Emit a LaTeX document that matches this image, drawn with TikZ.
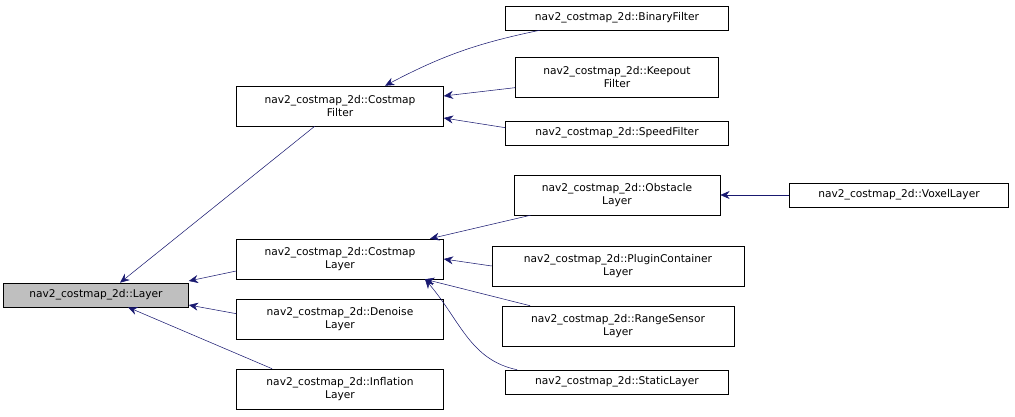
\documentclass[tikz,border=0pt]{standalone}
\usepackage{fontspec}
\setmainfont{DejaVu Sans}
\usetikzlibrary{arrows.meta}
\definecolor{edgeblue}{HTML}{191970}
\begin{document}
\begin{tikzpicture}[
        x=0.0264cm, y=-0.0264cm,
        cls/.style={draw=black, rectangle, align=center, inner sep=0pt, font=\fontsize{8}{9.5}\selectfont},
        one/.style={cls, minimum height=24*0.0264cm},
        two/.style={cls, minimum height=40*0.0264cm},
        inherit/.style={{Stealth[length=7pt,width=6pt]}-, edgeblue, thin}
    ]
        \useasboundingbox (0,0) rectangle (1015,417);
        % Classes
        \node[one, fill=black!25, minimum width=185*0.0264cm] (layer) at (96,295) {nav2\_costmap\_2d::Layer};
        \node[two, minimum width=207*0.0264cm] (cfilter) at (340,106) {nav2\_costmap\_2d::Costmap\\Filter};
        \node[two, minimum width=207*0.0264cm] (clayer) at (340,259) {nav2\_costmap\_2d::Costmap\\Layer};
        \node[two, minimum width=207*0.0264cm] (denoise) at (340,319) {nav2\_costmap\_2d::Denoise\\Layer};
        \node[two, minimum width=207*0.0264cm] (inflation) at (340,389) {nav2\_costmap\_2d::Inflation\\Layer};
        \node[one, minimum width=223*0.0264cm] (binary) at (617,18) {nav2\_costmap\_2d::BinaryFilter};
        \node[two, minimum width=203*0.0264cm] (keepout) at (617,77) {nav2\_costmap\_2d::Keepout\\Filter};
        \node[one, minimum width=223*0.0264cm] (speed) at (617,133) {nav2\_costmap\_2d::SpeedFilter};
        \node[two, minimum width=206*0.0264cm] (obstacle) at (617,195) {nav2\_costmap\_2d::Obstacle\\Layer};
        \node[one, minimum width=219*0.0264cm] (voxel) at (899,195) {nav2\_costmap\_2d::VoxelLayer};
        \node[two, minimum width=252*0.0264cm] (plugin) at (618,266) {nav2\_costmap\_2d::PluginContainer\\Layer};
        \node[two, minimum width=232*0.0264cm] (range) at (618,326) {nav2\_costmap\_2d::RangeSensor\\Layer};
        \node[one, minimum width=223*0.0264cm] (static) at (617,382) {nav2\_costmap\_2d::StaticLayer};

        % Inheritance edges
        \draw[inherit] (layer.north) ++(24,0) coordinate (l1) (l1) -- ([xshift=-19pt]cfilter.south) ;
        \draw[inherit] (layer.east) ++(0,-14) coordinate (l2) (l2) -- ([yshift=-9pt]clayer.west);
        \draw[inherit] (layer.east) ++(0,10) coordinate (l3) (l3) -- ([yshift=4pt]denoise.west);
        \draw[inherit] (layer.south) ++(32,0) coordinate (l4) (l4) -- ([xshift=-51pt]inflation.north);
        \draw[inherit] (cfilter.north) ++(45,0) coordinate (c1) (c1) to[bend left=8] ([xshift=-58pt]binary.south);
        \draw[inherit] (cfilter.east) ++(0,-10) coordinate (c2) (c2) -- ([yshift=-8pt]keepout.west);
        \draw[inherit] (cfilter.east) ++(0,12) coordinate (c3) (c3) -- ([yshift=4pt]speed.west);
        \draw[inherit] (clayer.north) ++(90,0) coordinate (d1) (d1) -- ([xshift=-65pt]obstacle.south);
        \draw[inherit] (clayer.east) -- (plugin.west);
        \draw[inherit] (clayer.south) ++(85,0) coordinate (d3) (d3) -- ([xshift=-66pt]range.north);
        \draw[inherit] (clayer.south) ++(85,0) coordinate (d4) (d4) .. controls (460,320) and (470,360) .. ([xshift=-75pt]static.north);
        \draw[inherit] (obstacle.east) -- (voxel.west);
    \end{tikzpicture}
\end{document}
